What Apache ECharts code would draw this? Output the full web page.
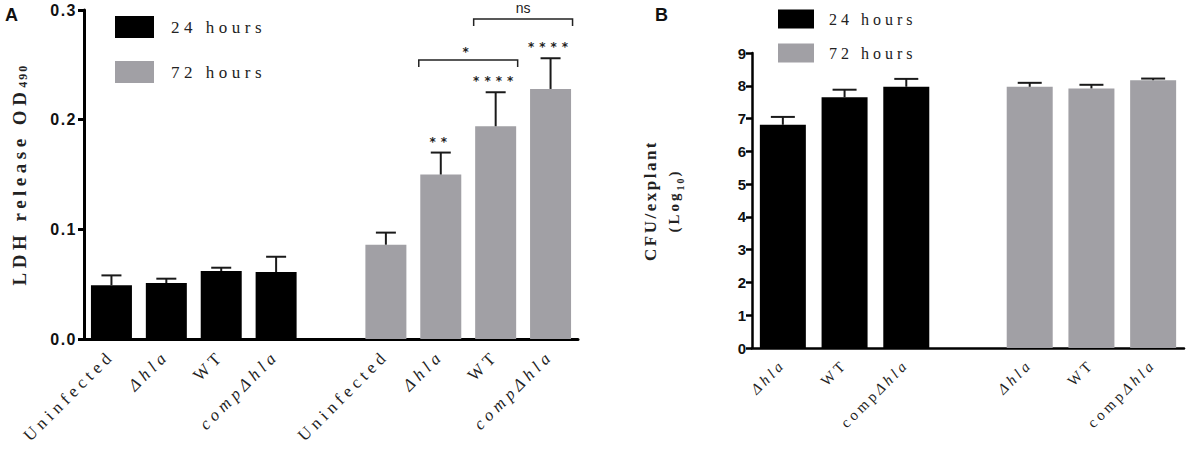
<!DOCTYPE html>
<html>
<head>
<meta charset="utf-8">
<script src="https://cdn.jsdelivr.net/npm/echarts@6/dist/echarts.min.js"></script>
<style>
html, body { margin: 0; padding: 0; background: #fff; }
#main { width: 1199px; height: 454px; }
</style>
</head>
<body>
<div id="main"></div>
<script>
// ---- panel A: LDH release ----
var strainsA = ['Uninfected', 'Δhla', 'WT', 'compΔhla'];
var ldh24 = [0.049, 0.051, 0.062, 0.061];
var ldh24Sem = [0.009, 0.004, 0.003, 0.014];
var ldh72 = [0.086, 0.150, 0.194, 0.228];
var ldh72Sem = [0.011, 0.020, 0.031, 0.028];
var ldh72Stars = ['', '**', '****', '****'];
// [from strain, to strain, height, text] within the 72 h group
var ldhBrackets = [[1, 2, 0.2544, '*'], [2, 3, 0.2918, 'ns']];
var ticksA = [0, 0.1, 0.2, 0.3];

// ---- panel B: CFU/explant ----
var strainsB = ['Δhla', 'WT', 'compΔhla'];
var cfu24 = [6.81, 7.65, 7.97];
var cfu24Sem = [0.24, 0.23, 0.24];
var cfu72 = [7.97, 7.92, 8.17];
var cfu72Sem = [0.12, 0.11, 0.05];
var ticksB = [0, 1, 2, 3, 4, 5, 6, 7, 8, 9];

var BLACK = '#000';
var GREY = '#a1a0a5';
var SERIF = 'Liberation Serif';
var SANS = 'Liberation Sans';

// letter spacing of the figure's text, by family / size / weight
function spacingFor(fam, size, bold) {
  if (fam.indexOf('Serif') >= 0) {
    if (bold) {
      if (size >= 19) return 4.5;
      if (size >= 17) return 2.5;
      if (size >= 15) return 3;
      return 2;
    }
    if (size >= 17) return 4.5;
    if (size >= 16) return 4;
    return 3.5;
  }
  if (fam.indexOf('DejaVu') >= 0) return 5;
  if (bold && size >= 16) return 1.5;
  return 0;
}
function spacingOfFont(font) {
  font = font || '12px sans-serif';
  var m = /(\d+(?:\.\d+)?)px/.exec(font);
  var size = m ? parseFloat(m[1]) : 12;
  var fam = m ? font.slice(m.index + m[0].length) : font;
  return spacingFor(fam, size, /bold|[6-9]00/.test(font));
}
var measureCtx = document.createElement('canvas').getContext('2d');
echarts.setPlatformAPI({
  measureText: function (text, font) {
    measureCtx.font = font || '12px sans-serif';
    var w = measureCtx.measureText(text).width;
    return { width: w + spacingOfFont(font) * String(text).length };
  }
});

function blanks(n) { var a = []; for (var i = 0; i < n; i++) a.push('-'); return a; }

// categories: group 24 h, an empty slot, group 72 h
var catsA = strainsA.concat([''], strainsA);
var catsB = strainsB.concat([''], strainsB);
var offA = strainsA.length + 1;
var offB = strainsB.length + 1;

function errData(means, sems, off) {
  return means.map(function (m, i) { return [i + off, m, m + sems[i]]; });
}
var errA = errData(ldh24, ldh24Sem, 0).concat(errData(ldh72, ldh72Sem, offA));
var starsA = strainsA.map(function () { return ''; }).concat(ldh72Stars);
var errB = errData(cfu24, cfu24Sem, 0).concat(errData(cfu72, cfu72Sem, offB));

function errRenderer(capHalf, labels) {
  return function (params, api) {
    var p0 = api.coord([api.value(0), api.value(1)]);
    var p1 = api.coord([api.value(0), api.value(2)]);
    var kids = [
      { type: 'line', shape: { x1: p0[0], y1: p0[1], x2: p1[0], y2: p1[1] }, style: { stroke: '#1a1a1a', lineWidth: 2 } },
      { type: 'line', shape: { x1: p1[0] - capHalf, y1: p1[1], x2: p1[0] + capHalf, y2: p1[1] }, style: { stroke: '#1a1a1a', lineWidth: 2 } }
    ];
    var lab = labels ? labels[params.dataIndex] : '';
    if (lab) {
      kids.push({ type: 'text', x: p1[0], y: p1[1] - 11,
        style: { text: lab, fill: '#222', font: 'bold 12px "DejaVu Sans"', align: 'center', verticalAlign: 'middle' } });
    }
    return { type: 'group', children: kids };
  };
}

var bracketData = ldhBrackets.map(function (b) { return [b[0] + offA, b[1] + offA, b[2]]; });

function bracketRenderer(params, api) {
  var a = api.coord([api.value(0), api.value(2)]);
  var b = api.coord([api.value(1), api.value(2)]);
  var h = 22, drop = 7;
  var txt = ldhBrackets[params.dataIndex][3];
  return { type: 'group', children: [
    { type: 'polyline', shape: { points: [[a[0] - h, a[1] + drop], [a[0] - h, a[1]], [b[0] + h, b[1]], [b[0] + h, b[1] + drop]] },
      style: { stroke: '#222', lineWidth: 1.5, fill: 'none' } },
    { type: 'text', x: (a[0] + b[0]) / 2, y: a[1] - (txt === 'ns' ? 11 : 8),
      style: { text: txt, fill: '#222', align: 'center', verticalAlign: 'middle',
        font: txt === 'ns' ? '14px "Liberation Sans"' : 'bold 12px "DejaVu Sans"' } }
  ] };
}

function fmtA(v) {
  if (v === 'Uninfected' || v === 'WT' || v === '') return v;
  return '{i|' + v + '}';
}
function fmtB(v) {
  if (v === 'compΔhla') return 'comp{i|Δhla}';
  if (v === 'Δhla') return '{i|Δhla}';
  return v;
}
function tickFilter(i, v) { return v !== ''; }

var chart = echarts.init(document.getElementById('main'), null, { renderer: 'svg' });

var option = {
  animation: false,
  title: [
    { text: 'A', left: 5, top: 5, padding: 0, textStyle: { fontFamily: SANS, fontWeight: 'bold', fontSize: 18, color: '#111' } },
    { text: 'B', left: 655, top: 5, padding: 0, textStyle: { fontFamily: SANS, fontWeight: 'bold', fontSize: 18, color: '#111' } }
  ],
  legend: [
    { left: 110, top: 11, orient: 'vertical', icon: 'rect', itemWidth: 39, itemHeight: 22, itemGap: 23,
      data: ['24 hours', '72 hours'], textStyle: { fontFamily: SERIF, fontSize: 17, color: '#222', padding: [0, 0, 0, 12] } },
    { left: 773, top: 4, orient: 'vertical', icon: 'rect', itemWidth: 36, itemHeight: 19, itemGap: 14,
      data: ['24 hours', '72 hours'], textStyle: { fontFamily: SERIF, fontSize: 16, color: '#222', padding: [0, 0, 0, 10] } }
  ],
  grid: [
    { left: 84, top: 10, width: 494, height: 329 },
    { left: 752, top: 53, width: 432, height: 295 }
  ],
  xAxis: [
    { type: 'category', gridIndex: 0, data: catsA,
      axisLine: { lineStyle: { color: '#000', width: 3 } },
      axisTick: { alignWithLabel: true, length: 9, interval: tickFilter, lineStyle: { color: '#000', width: 3 } },
      axisLabel: { interval: 0, rotate: 45, margin: 14, fontFamily: SERIF, fontSize: 17, color: '#222', formatter: fmtA,
        rich: { i: { fontFamily: SERIF, fontSize: 17, fontStyle: 'italic', color: '#222' } } } },
    { type: 'category', gridIndex: 1, data: catsB,
      axisLine: { lineStyle: { color: '#000', width: 2.5 } },
      axisTick: { alignWithLabel: true, length: 8, interval: tickFilter, lineStyle: { color: '#000', width: 2.5 } },
      axisLabel: { interval: 0, rotate: 45, margin: 14, fontFamily: SERIF, fontSize: 15, color: '#222', formatter: fmtB,
        rich: { i: { fontFamily: SERIF, fontSize: 15, fontStyle: 'italic', color: '#222' } } } }
  ],
  yAxis: [
    { type: 'value', gridIndex: 0, min: ticksA[0], max: ticksA[ticksA.length - 1], interval: 0.1,
      splitLine: { show: false },
      axisLine: { show: true, lineStyle: { color: '#000', width: 3 } },
      axisTick: { show: true, length: 6, lineStyle: { color: '#000', width: 3 } },
      axisLabel: { margin: 7, fontFamily: SANS, fontWeight: 'bold', fontSize: 16, color: '#111',
        formatter: function (v) { return v.toFixed(1); } },
      name: '{t|LDH release OD}{s|490}', nameLocation: 'middle', nameGap: 54, nameRotate: 90,
      nameTextStyle: { rich: {
        t: { fontFamily: SERIF, fontWeight: 'bold', fontSize: 19, color: '#222', lineHeight: 22 },
        s: { fontFamily: SERIF, fontWeight: 'bold', fontSize: 12, color: '#222', lineHeight: 12, verticalAlign: 'bottom' } } } },
    { type: 'value', gridIndex: 1, min: ticksB[0], max: ticksB[ticksB.length - 1], interval: 1,
      splitLine: { show: false },
      axisLine: { show: true, lineStyle: { color: '#000', width: 2.5 } },
      axisTick: { show: true, length: 6, lineStyle: { color: '#000', width: 2.5 } },
      axisLabel: { margin: 6, fontFamily: SANS, fontWeight: 'bold', fontSize: 15, color: '#111' },
      name: '{t|CFU/explant}\n{u|(Log}{s|10}{u|)}', nameLocation: 'middle', nameGap: 66, nameRotate: 90,
      nameTextStyle: { rich: {
        t: { fontFamily: SERIF, fontWeight: 'bold', fontSize: 17, color: '#222', lineHeight: 24 },
        u: { fontFamily: SERIF, fontWeight: 'bold', fontSize: 15, color: '#222', lineHeight: 24 },
        s: { fontFamily: SERIF, fontWeight: 'bold', fontSize: 10, color: '#222', lineHeight: 12, verticalAlign: 'bottom' } } } }
  ],
  series: [
    { name: '24 hours', type: 'bar', xAxisIndex: 0, yAxisIndex: 0, barWidth: 41, barGap: '-100%',
      itemStyle: { color: BLACK }, data: ldh24.concat(blanks(offA)) },
    { name: '72 hours', type: 'bar', xAxisIndex: 0, yAxisIndex: 0, barWidth: 41, barGap: '-100%',
      itemStyle: { color: GREY }, data: blanks(offA).concat(ldh72) },
    { name: 'errA', type: 'custom', xAxisIndex: 0, yAxisIndex: 0, z: 5, encode: { x: 0, y: [1, 2] },
      renderItem: errRenderer(10, starsA), data: errA },
    { name: 'sigA', type: 'custom', xAxisIndex: 0, yAxisIndex: 0, z: 5, encode: { x: [0, 1], y: 2 },
      renderItem: bracketRenderer, data: bracketData },
    { name: '24 hours', type: 'bar', xAxisIndex: 1, yAxisIndex: 1, barWidth: 46, barGap: '-100%',
      itemStyle: { color: BLACK }, data: cfu24.concat(blanks(offB)) },
    { name: '72 hours', type: 'bar', xAxisIndex: 1, yAxisIndex: 1, barWidth: 46, barGap: '-100%',
      itemStyle: { color: GREY }, data: blanks(offB).concat(cfu72) },
    { name: 'errB', type: 'custom', xAxisIndex: 1, yAxisIndex: 1, z: 5, encode: { x: 0, y: [1, 2] },
      renderItem: errRenderer(12, null), data: errB }
  ]
};

chart.setOption(option);

// SVG text takes CSS letter-spacing; the layout above was measured with the same spacing
function spaceText() {
  document.querySelectorAll('#main svg text').forEach(function (t) {
    var cs = getComputedStyle(t);
    var s = spacingFor(cs.fontFamily, parseFloat(cs.fontSize), parseInt(cs.fontWeight, 10) >= 600);
    t.style.letterSpacing = s + 'px';
  });
}
chart.on('finished', spaceText);
spaceText();
</script>
</body>
</html>
